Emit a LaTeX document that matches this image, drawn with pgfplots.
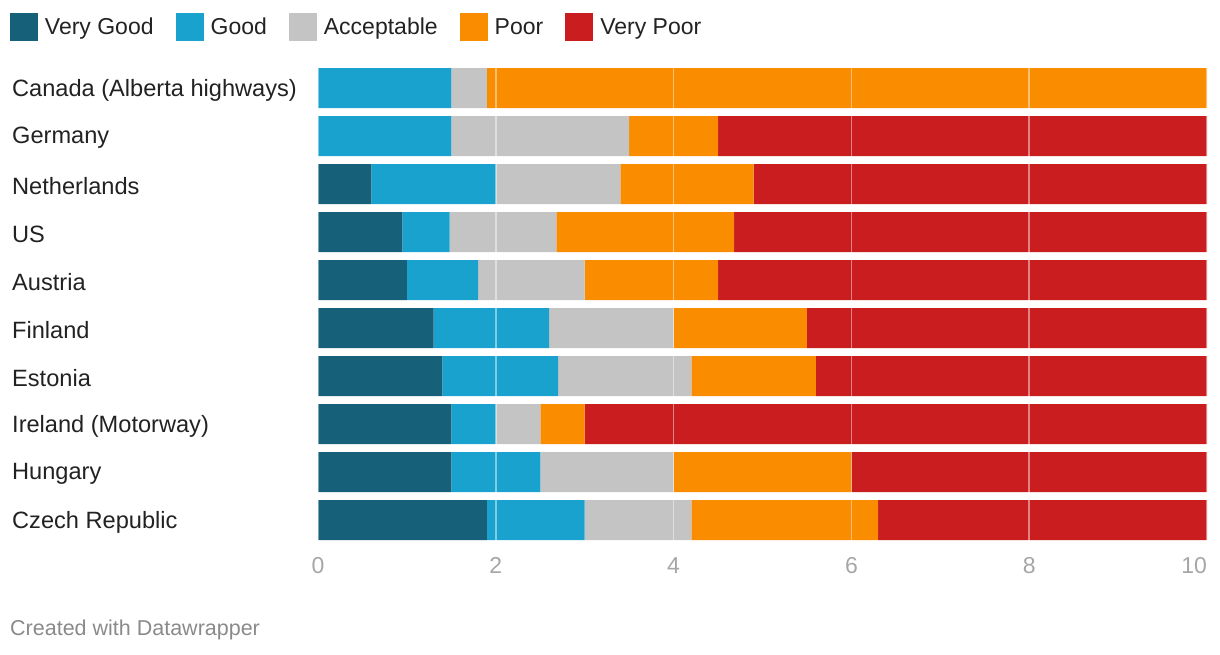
\documentclass[border=0pt]{standalone}
\usepackage{pgfplots}
\pgfplotsset{compat=1.18}
\usepackage{fontspec}
\setmainfont{Liberation Sans}
\definecolor{vg}{HTML}{17607A}
\definecolor{gd}{HTML}{1AA2CE}
\definecolor{ac}{HTML}{C4C4C4}
\definecolor{pr}{HTML}{FA8C00}
\definecolor{vp}{HTML}{C91D1F}
\definecolor{lbl}{HTML}{222222}
\definecolor{tk}{HTML}{A6A6A6}
\definecolor{ft}{HTML}{8A8A8A}
\begin{document}
\begin{tikzpicture}
\useasboundingbox (0pt,0pt) rectangle (1220pt,-654pt);
\begin{axis}[
  at={(318pt,-544pt)}, anchor=south west,
  scale only axis, width=889pt, height=480pt,
  xbar stacked, bar width=40pt,
  xmin=0, xmax=10, ymin=-0.5, ymax=9.5, y dir=reverse,
  xtick={0,2,...,10}, ytick={0,...,9},
  xticklabels={0,2,4,6,8,\llap{10}},
  yticklabels={Canada (Alberta highways),Germany,Netherlands,US,Austria,Finland,Estonia,Ireland (Motorway),Hungary,Czech Republic},
  yticklabel style={anchor=west, inner sep=0pt, xshift=-306pt, yshift=-2pt, font=\fontsize{23.6}{27}\selectfont, text=lbl},
  xticklabel style={inner sep=0pt, yshift=-13pt, font=\fontsize{23}{27}\selectfont, text=tk},
  /pgf/number format/assume math mode=true,
  axis line style={draw=none}, major tick length=0pt,
  xmajorgrids, grid style={white, opacity=0.45, line width=1.6pt},
  axis on top, clip=false,
  legend columns=5,
  legend style={at={(-0.3465,1.10625)}, anchor=north west, draw=none, fill=none,
    inner sep=0pt, outer sep=0pt, font=\fontsize{23}{27}\selectfont, text=lbl,
    nodes={inner sep=0pt},
    /tikz/every odd column/.append style={column sep=7pt},
    /tikz/every even column/.append style={column sep=22pt}},
]
\addplot[fill=vg, draw=none, legend image code/.code={\fill[vg] (0pt,-14pt) rectangle (28pt,14pt);}] coordinates {
(0,0) (0,1) (0.6,2) (0.95,3) (1.0,4) (1.3,5) (1.4,6) (1.5,7) (1.5,8) (1.9,9)};
\addplot[fill=gd, draw=none, legend image code/.code={\fill[gd] (0pt,-14pt) rectangle (28pt,14pt);}] coordinates {
(1.5,0) (1.5,1) (1.4,2) (0.53,3) (0.8,4) (1.3,5) (1.3,6) (0.5,7) (1.0,8) (1.1,9)};
\addplot[fill=ac, draw=none, legend image code/.code={\fill[ac] (0pt,-14pt) rectangle (28pt,14pt);}] coordinates {
(0.4,0) (2.0,1) (1.4,2) (1.2,3) (1.2,4) (1.4,5) (1.5,6) (0.5,7) (1.5,8) (1.2,9)};
\addplot[fill=pr, draw=none, legend image code/.code={\fill[pr] (0pt,-14pt) rectangle (28pt,14pt);}] coordinates {
(8.1,0) (1.0,1) (1.5,2) (2.0,3) (1.5,4) (1.5,5) (1.4,6) (0.5,7) (2.0,8) (2.1,9)};
\addplot[fill=vp, draw=none, legend image code/.code={\fill[vp] (0pt,-14pt) rectangle (28pt,14pt);}] coordinates {
(0,0) (5.5,1) (5.1,2) (5.32,3) (5.5,4) (4.5,5) (4.4,6) (7.0,7) (4.0,8) (3.7,9)};
\legend{Very Good,Good,Acceptable,Poor,Very Poor}
\end{axis}
\node[anchor=west, inner sep=0pt, text=ft, font=\fontsize{21.5}{25}\selectfont] at (10pt,-630pt) {Created with Datawrapper};
\end{tikzpicture}
\end{document}
